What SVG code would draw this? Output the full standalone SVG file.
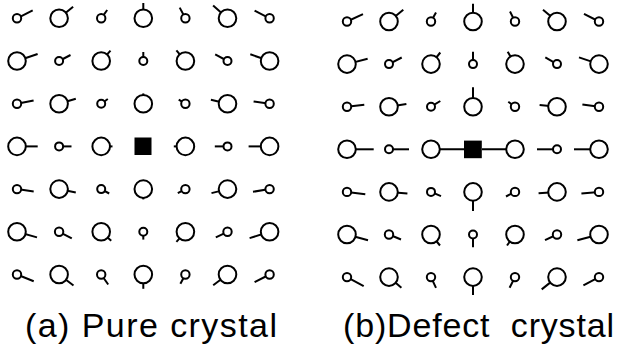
<svg xmlns="http://www.w3.org/2000/svg" width="619" height="352" viewBox="0 0 619 352">
  <style>
    .d line { stroke: #000; stroke-width: 2; }
    .d circle { fill: #fff; stroke: #000; stroke-width: 2; }
    .defect { fill: #000; }
    .cap { font-family: "Liberation Sans", Arial, Helvetica, sans-serif; font-size: 34px; fill: #000; }
  </style>
  <rect width="619" height="352" fill="#fff"/>

  <!-- (a) pure crystal: 7x7 dipoles, tail drawn from centre, circle covers the inner part -->
  <g id="pure">
    <g id="a-r0c0" class="d" transform="translate(17,18.3)"><line x2="15.7" y2="-8"/><circle r="4.2"/></g>
    <g id="a-r0c1" class="d" transform="translate(59.1,18.3)"><line x2="14" y2="-11.6"/><circle r="8.8"/></g>
    <g id="a-r0c2" class="d" transform="translate(101.2,18.3)"><line x2="6" y2="-8.3"/><circle r="4.2"/></g>
    <g id="a-r0c3" class="d" transform="translate(143.3,18.3)"><line x2="0" y2="-15.3"/><circle r="8.8"/></g>
    <g id="a-r0c4" class="d" transform="translate(185.4,18.3)"><line x2="-5.7" y2="-10.7"/><circle r="4.2"/></g>
    <g id="a-r0c5" class="d" transform="translate(227.5,18.3)"><line x2="-14.4" y2="-12.7"/><circle r="8.8"/></g>
    <g id="a-r0c6" class="d" transform="translate(269.6,18.3)"><line x2="-15" y2="-7.6"/><circle r="4.2"/></g>

    <g id="a-r1c0" class="d" transform="translate(17,61)"><line x2="20.6" y2="-7"/><circle r="8.8"/></g>
    <g id="a-r1c1" class="d" transform="translate(59.1,61)"><line x2="11.4" y2="-6"/><circle r="4"/></g>
    <g id="a-r1c2" class="d" transform="translate(101.2,61)"><line x2="9.3" y2="-10.3"/><circle r="8.8"/></g>
    <g id="a-r1c3" class="d" transform="translate(143.3,61)"><line x2="0" y2="-9"/><circle r="4"/></g>
    <g id="a-r1c4" class="d" transform="translate(185.4,61)"><line x2="-9" y2="-10.7"/><circle r="8.8"/></g>
    <g id="a-r1c5" class="d" transform="translate(227.5,61)"><line x2="-12.3" y2="-6.7"/><circle r="4"/></g>
    <g id="a-r1c6" class="d" transform="translate(269.6,61)"><line x2="-19.3" y2="-6.7"/><circle r="8.8"/></g>

    <g id="a-r2c0" class="d" transform="translate(17,103.7)"><line x2="16.6" y2="-3.3"/><circle r="4.2"/></g>
    <g id="a-r2c1" class="d" transform="translate(59.1,103.7)"><line x2="16.7" y2="-5"/><circle r="8.8"/></g>
    <g id="a-r2c2" class="d" transform="translate(101.2,103.7)"><line x2="6.6" y2="-4.7"/><circle r="4"/></g>
    <g id="a-r2c3" class="d" transform="translate(143.3,103.7)"><line x2="0" y2="-10.3"/><circle r="8.8"/></g>
    <g id="a-r2c4" class="d" transform="translate(185.4,103.7)"><line x2="-6.7" y2="-4"/><circle r="4.2"/></g>
    <g id="a-r2c5" class="d" transform="translate(227.5,103.7)"><line x2="-16.6" y2="-4"/><circle r="8.8"/></g>
    <g id="a-r2c6" class="d" transform="translate(269.6,103.7)"><line x2="-16" y2="-2.3"/><circle r="4.2"/></g>

    <g id="a-r3c0" class="d" transform="translate(17,146.4)"><line x2="20.7" y2="0"/><circle r="8.8"/></g>
    <g id="a-r3c1" class="d" transform="translate(59.1,146.4)"><line x2="12.4" y2="0"/><circle r="4"/></g>
    <g id="a-r3c2" class="d" transform="translate(101.2,146.4)"><line x2="11.3" y2="0"/><circle r="8.8"/></g>
    <g id="a-r3c3"><rect class="defect" x="134.5" y="137.5" width="17" height="17.5"/></g>
    <g id="a-r3c4" class="d" transform="translate(185.4,146.4)"><line x2="-11.6" y2="0"/><circle r="8.8"/></g>
    <g id="a-r3c5" class="d" transform="translate(227.5,146.4)"><line x2="-12.7" y2="0"/><circle r="4"/></g>
    <g id="a-r3c6" class="d" transform="translate(269.6,146.4)"><line x2="-21" y2="0"/><circle r="8.8"/></g>

    <g id="a-r4c0" class="d" transform="translate(17,189.1)"><line x2="16.7" y2="2.4"/><circle r="4.2"/></g>
    <g id="a-r4c1" class="d" transform="translate(59.1,189.1)"><line x2="16.7" y2="3.4"/><circle r="8.8"/></g>
    <g id="a-r4c2" class="d" transform="translate(101.2,189.1)"><line x2="8" y2="4.4"/><circle r="4"/></g>
    <g id="a-r4c3" class="d" transform="translate(143.3,189.1)"><line x2="0" y2="10.3"/><circle r="8.8"/></g>
    <g id="a-r4c4" class="d" transform="translate(185.4,189.1)"><line x2="-7.6" y2="4"/><circle r="4.2"/></g>
    <g id="a-r4c5" class="d" transform="translate(227.5,189.1)"><line x2="-16" y2="4"/><circle r="8.8"/></g>
    <g id="a-r4c6" class="d" transform="translate(269.6,189.1)"><line x2="-16.6" y2="2.7"/><circle r="4.2"/></g>

    <g id="a-r5c0" class="d" transform="translate(17,231.8)"><line x2="20" y2="5.6"/><circle r="8.8"/></g>
    <g id="a-r5c1" class="d" transform="translate(59.1,231.8)"><line x2="12.7" y2="6.6"/><circle r="4.2"/></g>
    <g id="a-r5c2" class="d" transform="translate(101.2,231.8)"><line x2="10" y2="9"/><circle r="8.8"/></g>
    <g id="a-r5c3" class="d" transform="translate(143.3,231.8)"><line x2="0" y2="7.8"/><circle r="4"/></g>
    <g id="a-r5c4" class="d" transform="translate(185.4,231.8)"><line x2="-9" y2="10"/><circle r="8.8"/></g>
    <g id="a-r5c5" class="d" transform="translate(227.5,231.8)"><line x2="-11.7" y2="5.6"/><circle r="4.2"/></g>
    <g id="a-r5c6" class="d" transform="translate(269.6,231.8)"><line x2="-20" y2="6.3"/><circle r="8.8"/></g>

    <g id="a-r6c0" class="d" transform="translate(17,274.5)"><line x2="16.7" y2="6.7"/><circle r="4.2"/></g>
    <g id="a-r6c1" class="d" transform="translate(59.1,274.5)"><line x2="14.4" y2="11"/><circle r="8.8"/></g>
    <g id="a-r6c2" class="d" transform="translate(101.2,274.5)"><line x2="7" y2="10"/><circle r="4.2"/></g>
    <g id="a-r6c3" class="d" transform="translate(143.3,274.5)"><line x2="0" y2="14.3"/><circle r="8.8"/></g>
    <g id="a-r6c4" class="d" transform="translate(185.4,274.5)"><line x2="-5" y2="9.3"/><circle r="4.2"/></g>
    <g id="a-r6c5" class="d" transform="translate(227.5,274.5)"><line x2="-14.3" y2="10.7"/><circle r="8.8"/></g>
    <g id="a-r6c6" class="d" transform="translate(269.6,274.5)"><line x2="-15" y2="7.7"/><circle r="4.2"/></g>
  </g>

  <!-- (b) crystal with a defect at the centre -->
  <g id="defect">
    <g id="b-r0c0" class="d" transform="translate(347,21.5)"><line x2="16" y2="-7.4"/><circle r="4.2"/></g>
    <g id="b-r0c1" class="d" transform="translate(389,21.5)"><line x2="14.3" y2="-11.7"/><circle r="8.8"/></g>
    <g id="b-r0c2" class="d" transform="translate(431,21.5)"><line x2="5" y2="-9"/><circle r="4.2"/></g>
    <g id="b-r0c3" class="d" transform="translate(473,21.5)"><line x2="0" y2="-17.7"/><circle r="8.8"/></g>
    <g id="b-r0c4" class="d" transform="translate(515,21.5)"><line x2="-5" y2="-10"/><circle r="4.2"/></g>
    <g id="b-r0c5" class="d" transform="translate(557,21.5)"><line x2="-14" y2="-11.7"/><circle r="8.8"/></g>
    <g id="b-r0c6" class="d" transform="translate(599,21.5)"><line x2="-15" y2="-7.7"/><circle r="4.2"/></g>

    <g id="b-r1c0" class="d" transform="translate(347,64.1)"><line x2="20.6" y2="-5.4"/><circle r="8.8"/></g>
    <g id="b-r1c1" class="d" transform="translate(389,64.1)"><line x2="12.7" y2="-6.6"/><circle r="4"/></g>
    <g id="b-r1c2" class="d" transform="translate(431,64.1)"><line x2="9.3" y2="-11.6"/><circle r="8.8"/></g>
    <g id="b-r1c3" class="d" transform="translate(473,64.1)"><line x2="0" y2="-12.3"/><circle r="4"/></g>
    <g id="b-r1c4" class="d" transform="translate(515,64.1)"><line x2="-7.3" y2="-12.3"/><circle r="8.8"/></g>
    <g id="b-r1c5" class="d" transform="translate(557,64.1)"><line x2="-11.7" y2="-6.7"/><circle r="4"/></g>
    <g id="b-r1c6" class="d" transform="translate(599,64.1)"><line x2="-20" y2="-6.7"/><circle r="8.8"/></g>

    <g id="b-r2c0" class="d" transform="translate(347,106.7)"><line x2="17.3" y2="-2"/><circle r="4.2"/></g>
    <g id="b-r2c1" class="d" transform="translate(389,106.7)"><line x2="17.4" y2="-2.7"/><circle r="8.8"/></g>
    <g id="b-r2c2" class="d" transform="translate(431,106.7)"><line x2="9.3" y2="-5.7"/><circle r="4"/></g>
    <g id="b-r2c3" class="d" transform="translate(473,106.7)"><line x2="0" y2="-19.4"/><circle r="8.8"/></g>
    <g id="b-r2c4" class="d" transform="translate(515,106.7)"><line x2="-6.7" y2="-5"/><circle r="4.2"/></g>
    <g id="b-r2c5" class="d" transform="translate(557,106.7)"><line x2="-17.4" y2="-1.7"/><circle r="8.8"/></g>
    <g id="b-r2c6" class="d" transform="translate(599,106.7)"><line x2="-16.6" y2="-2.3"/><circle r="4.2"/></g>

    <g id="b-r3c0" class="d" transform="translate(347,149.3)"><line x2="26.7" y2="0"/><circle r="8.8"/></g>
    <g id="b-r3c1" class="d" transform="translate(389,149.3)"><line x2="20" y2="0"/><circle r="4"/></g>
    <g id="b-r3c2" class="d" transform="translate(431,149.3)"><line x2="33" y2="0"/><circle r="8.8"/></g>
    <g id="b-r3c3"><rect class="defect" x="464" y="140.6" width="17.8" height="17.6"/></g>
    <g id="b-r3c4" class="d" transform="translate(515,149.3)"><line x2="-33" y2="0"/><circle r="8.8"/></g>
    <g id="b-r3c5" class="d" transform="translate(557,149.3)"><line x2="-20" y2="0"/><circle r="4"/></g>
    <g id="b-r3c6" class="d" transform="translate(599,149.3)"><line x2="-25" y2="0"/><circle r="8.8"/></g>

    <g id="b-r4c0" class="d" transform="translate(347,191.9)"><line x2="18.3" y2="2.3"/><circle r="4.2"/></g>
    <g id="b-r4c1" class="d" transform="translate(389,191.9)"><line x2="18.4" y2="1.6"/><circle r="8.8"/></g>
    <g id="b-r4c2" class="d" transform="translate(431,191.9)"><line x2="10" y2="4.3"/><circle r="4"/></g>
    <g id="b-r4c3" class="d" transform="translate(473,191.9)"><line x2="0" y2="19"/><circle r="8.8"/></g>
    <g id="b-r4c4" class="d" transform="translate(515,191.9)"><line x2="-9" y2="4.6"/><circle r="4.2"/></g>
    <g id="b-r4c5" class="d" transform="translate(557,191.9)"><line x2="-18.4" y2="1.3"/><circle r="8.8"/></g>
    <g id="b-r4c6" class="d" transform="translate(599,191.9)"><line x2="-17.6" y2="1.6"/><circle r="4.2"/></g>

    <g id="b-r5c0" class="d" transform="translate(347,234.5)"><line x2="21" y2="5.7"/><circle r="8.8"/></g>
    <g id="b-r5c1" class="d" transform="translate(389,234.5)"><line x2="12" y2="5"/><circle r="4.2"/></g>
    <g id="b-r5c2" class="d" transform="translate(431,234.5)"><line x2="9" y2="11"/><circle r="8.8"/></g>
    <g id="b-r5c3" class="d" transform="translate(473,234.5)"><line x2="0" y2="12.7"/><circle r="4"/></g>
    <g id="b-r5c4" class="d" transform="translate(515,234.5)"><line x2="-8" y2="11"/><circle r="8.8"/></g>
    <g id="b-r5c5" class="d" transform="translate(557,234.5)"><line x2="-12" y2="5.7"/><circle r="4.2"/></g>
    <g id="b-r5c6" class="d" transform="translate(599,234.5)"><line x2="-21.6" y2="5.7"/><circle r="8.8"/></g>

    <g id="b-r6c0" class="d" transform="translate(347,277.1)"><line x2="16.7" y2="9"/><circle r="4.2"/></g>
    <g id="b-r6c1" class="d" transform="translate(389,277.1)"><line x2="12.4" y2="10.7"/><circle r="8.8"/></g>
    <g id="b-r6c2" class="d" transform="translate(431,277.1)"><line x2="5" y2="10.7"/><circle r="4.2"/></g>
    <g id="b-r6c3" class="d" transform="translate(473,277.1)"><line x2="0" y2="18"/><circle r="8.8"/></g>
    <g id="b-r6c4" class="d" transform="translate(515,277.1)"><line x2="-5.4" y2="10.7"/><circle r="4.2"/></g>
    <g id="b-r6c5" class="d" transform="translate(557,277.1)"><line x2="-15.3" y2="12.3"/><circle r="8.8"/></g>
    <g id="b-r6c6" class="d" transform="translate(599,277.1)"><line x2="-15.6" y2="8.3"/><circle r="4.2"/></g>
  </g>

  <!-- captions -->
  <g id="captions">
    <text class="cap" x="25" y="337" textLength="252" lengthAdjust="spacing">(a) Pure crystal</text>
    <text class="cap" x="343" y="337" textLength="271" lengthAdjust="spacing" xml:space="preserve">(b)Defect  crystal</text>
  </g>
</svg>
